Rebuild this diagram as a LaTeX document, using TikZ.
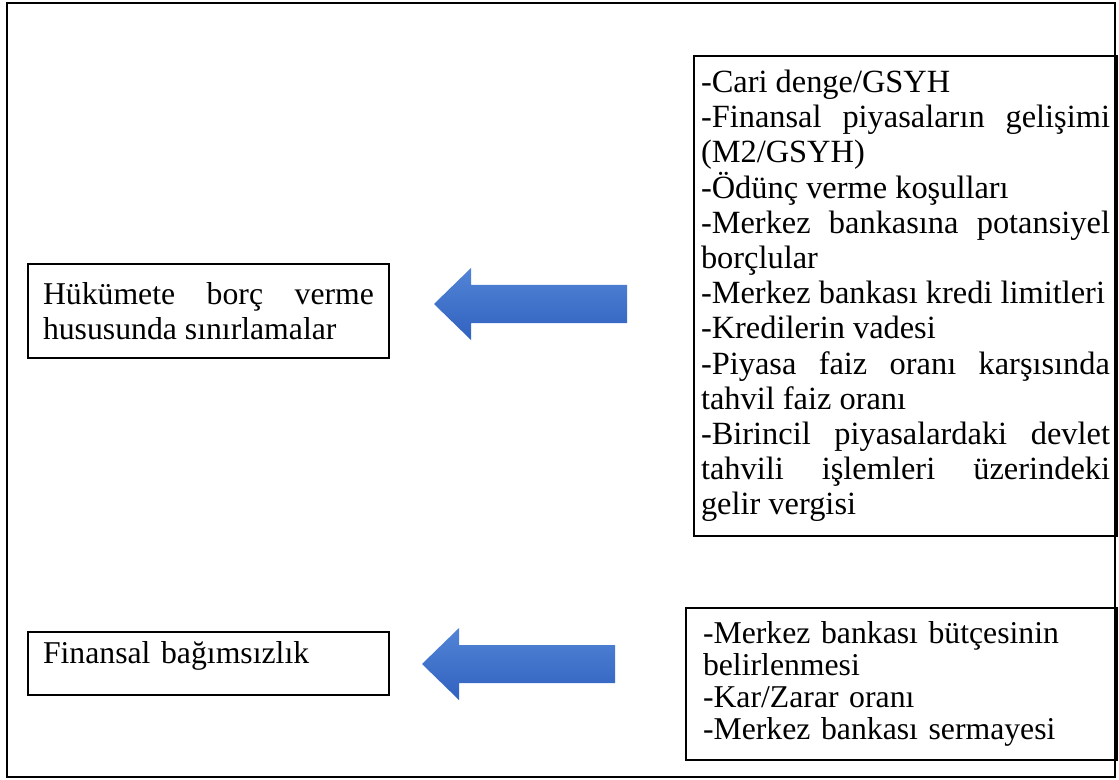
\documentclass[tikz,border=0pt]{standalone}
\usepackage{fontspec}
\setmainfont{Liberation Serif}
\hyphenpenalty=10000
\exhyphenpenalty=10000
\definecolor{oktop}{RGB}{82,132,214}
\definecolor{okalt}{RGB}{48,98,192}
\begin{document}
\begin{tikzpicture}[x=0.75pt, y=-0.75pt,
    kutu/.style={draw, line width=1.5pt, anchor=north west, inner ysep=0pt,
        font=\fontsize{23.8}{26.4}\selectfont},
    ok/.style={top color=oktop, bottom color=okalt}]
\useasboundingbox (0,0) rectangle (1119,780);
    \draw[line width=2pt](7,3)rectangle(1115,777);
    % sol kutular
    \node[kutu, align=justify, text width=248.25pt, inner xsep=11.25pt,
        minimum height=70.5pt](sinir) at (27,263)
        {\rightskip=8.25pt H\"ukümete borç verme\linebreak hususunda sınırlamalar};
    \node[kutu, align=left, text width=248.25pt, inner xsep=11.25pt,
        minimum height=47.25pt, text height=16pt, text depth=16pt](bagimsiz) at (27,631)
        {Finansal bağımsızlık};
    % sag kutular
    \node[kutu, align=justify, text width=306.75pt, inner xsep=5.25pt,
        minimum height=360pt, font=\fontsize{24.3}{26.4}\selectfont](kosul) at (693,55)
        {-Cari denge/GSYH\par
        -Finansal piyasaların gelişimi\linebreak (M2/GSYH)\par
        -Ödünç verme koşulları\par
        -Merkez bankasına potansiyel\linebreak borçlular\par
        -Merkez bankası kredi limitleri\par
        -Kredilerin vadesi\par
        -Piyasa faiz oranı karşısında\linebreak tahvil faiz oranı\par
        -Birincil piyasalardaki devlet\linebreak tahvili işlemleri üzerindeki\linebreak gelir vergisi};
    \node[kutu, align=left, text width=297.75pt, inner xsep=12.75pt,
        minimum height=114pt, font=\fontsize{23.8}{24}\selectfont](butce) at (685,607)
        {-Merkez bankası bütçesinin\\ belirlenmesi\\ -Kar/Zarar oranı\\ -Merkez bankası sermayesi};
\foreach \tx/\ty/\ex in {434/304/627, 422/664/615}
{
    \path[ok](\tx,\ty)--(\tx+37,\ty-36)--(\tx+37,\ty-19)--(\ex,\ty-19)
        --(\ex,\ty+19)--(\tx+37,\ty+19)--(\tx+37,\ty+36)--cycle;
}
\end{tikzpicture}
\end{document}
